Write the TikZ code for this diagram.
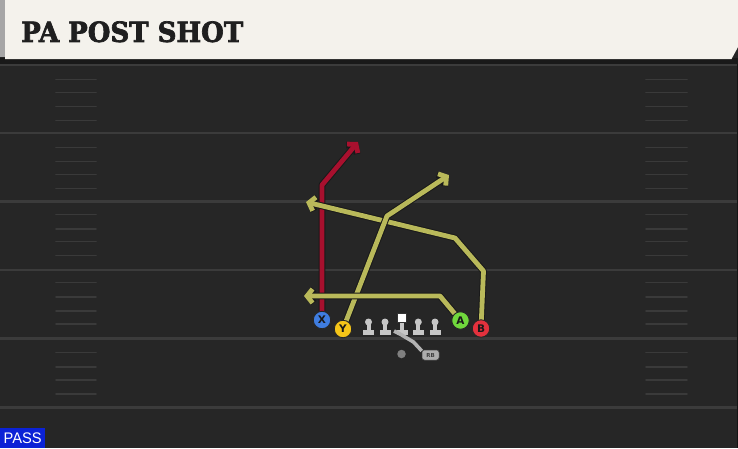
\documentclass[tikz,border=0pt]{standalone}
\usepackage{fontspec}
\usetikzlibrary{arrows.meta}
\newfontfamily\titlefont{DejaVu Serif}[FakeBold=2.5]
\newfontfamily\labelfont{DejaVu Sans}
\newfontfamily\passfont{Liberation Sans}
\definecolor{fieldc}{HTML}{262626}
\definecolor{yardc}{HTML}{3B3B3B}
\definecolor{hashc}{HTML}{3A3A3A}
\definecolor{creamc}{HTML}{F4F2EC}
\definecolor{redroute}{HTML}{A8102E}
\definecolor{yelroute}{HTML}{B9B95A}
\definecolor{xblue}{HTML}{3F7DE0}
\definecolor{yyel}{HTML}{F5C518}
\definecolor{agreen}{HTML}{70D83C}
\definecolor{bred}{HTML}{E3313D}
\definecolor{passblue}{HTML}{0B22D6}
\definecolor{linec}{HTML}{C6C6C6}
\pgfdeclarelayer{bg}
\pgfdeclarelayer{routes}
\pgfsetlayers{bg,routes,main}
\begin{document}
\begin{tikzpicture}[x=1pt,y=-1pt,
  yard/.style={draw=yardc,line width=2.2pt},
  hash/.style={draw=hashc,line width=1.6pt,line cap=round},
  routeout/.style={draw=black!90,line width=6.8pt,line join=round,-{Straight Barb[length=5.5pt,width=14pt]}},
  routein/.style={line width=4.8pt,line join=round,-{Straight Barb[length=5.5pt,width=14pt]}},
  player/.style={circle,minimum size=17.5pt,inner sep=0pt,draw=black!85,line width=0.9pt,
    font=\labelfont\bfseries\fontsize{10.5}{10.5}\selectfont,text=black!90},
  lman/.style={fill=linec},
  lineman/.pic={\fill[lman] (0,322) circle (3.5pt);
                \fill[lman] (-2,322) rectangle (2,331);
                \fill[lman] (-5.5,329.5) rectangle (5.5,334.5);},
  rbbox/.style={rounded corners=2.5pt,fill=black!32,draw=black!70,line width=0.5pt,minimum width=17pt,minimum height=10pt,inner sep=0pt,
    font=\labelfont\bfseries\fontsize{5.5}{5.5}\selectfont,text=black!75},
  fake/.style={draw=black!30,line width=3.6pt,line join=round}
]
\useasboundingbox (0,0) rectangle (738,448);
\begin{pgfonlayer}{bg}
  \fill[fieldc] (0,0) rectangle (738,448);
  \foreach \yy in {65,133,201.5,270,338.5,407.5}
    \draw[yard] (0,\yy) -- (738,\yy);
  \foreach \yy in {79.5,92.5,106.5,120.5,147.5,161.5,174.5,188.5,214.5,229,241.5,255.5,282.5,297,311,324,352.5,367,380,394}{
    \draw[hash] (56,\yy) -- (96,\yy);
    \draw[hash] (646,\yy) -- (687,\yy);
  }
  \fill[black!90] (0,58) rectangle (738,64);
  \fill[creamc] (5,0) -- (738,0) -- (738,47) -- (731.5,59) -- (5,59) -- cycle;
  \fill[black!35] (0,0) rectangle (5,57);
  \fill[black!92] (736.5,64) rectangle (738,448);
\end{pgfonlayer}

\node[inner sep=0pt,anchor=south west,text=black!88] (title) at (21,42.5)
  {\resizebox{222pt}{20.6pt}{\titlefont\bfseries PA POST SHOT}};

\node[fill=passblue,minimum width=45pt,minimum height=20pt,inner sep=0pt,anchor=north west] (pass) at (0,428) {};
\node[inner sep=0pt,text=white] (passtext) at (pass.center) {\resizebox{38pt}{10.7pt}{\passfont PASS}};

% player positions
\node[player,fill=xblue] (X) at (322,320) {X};
\node[player,fill=yyel] (Y) at (343,329) {Y};
\node[player,fill=agreen] (A) at (460.5,320.5) {A};
\node[player,fill=bred] (B) at (481,328.5) {B};

\coordinate (xb) at (322,185);
\coordinate (xe) at (358,142);
\coordinate (yb) at (387,216);
\coordinate (ye) at (449,175);
\coordinate (ab) at (440,296);
\coordinate (ae) at (304,296);
\coordinate (bb1) at (483.5,271);
\coordinate (bb2) at (455,238);
\coordinate (be) at (306,202);

\begin{pgfonlayer}{routes}
  \draw[routeout] (X.center) -- (xb) -- (xe);
  \draw[routein,draw=redroute] (X.center) -- (xb) -- (xe);
  \draw[routeout] (B.center) -- (bb1) -- (bb2) -- (be);
  \draw[routein,draw=yelroute] (B.center) -- (bb1) -- (bb2) -- (be);
  \draw[routeout] (Y.center) -- (yb) -- (ye);
  \draw[routein,draw=yelroute] (Y.center) -- (yb) -- (ye);
  \draw[routeout] (A.center) -- (ab) -- (ae);
  \draw[routein,draw=yelroute] (A.center) -- (ab) -- (ae);
\end{pgfonlayer}

% offensive line
\pic at (368.5,0) {lineman};
\pic at (385,0) {lineman};
\pic at (418.3,0) {lineman};
\pic at (435,0) {lineman};
\fill[lman] (400,322) rectangle (404,331);
\fill[lman] (396.5,329.5) rectangle (407.5,334.5);
\node[fill=white,draw=black!80,line width=0.6pt,minimum size=9.5pt,inner sep=0pt] (C) at (402,318) {};

% backfield
\node[circle,fill=black!50,minimum size=8.5pt,inner sep=0pt] (QB) at (401.5,354) {};
\node[rbbox] (RB) at (430.5,355) {RB};
\coordinate (f1) at (413.5,342);
\coordinate (f2) at (400,334);
\coordinate (fe) at (394,331);
\draw[fake] (RB.155) -- (f1) -- (f2) -- (fe);
\end{tikzpicture}
\end{document}
